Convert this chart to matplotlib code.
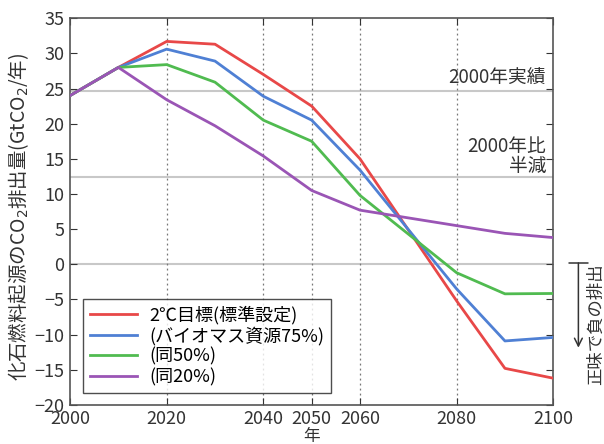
import matplotlib
matplotlib.use('Agg')
import matplotlib.pyplot as plt

plt.rcParams['font.family'] = ['Noto Sans CJK JP', 'DejaVu Sans']

# data
years = [2000, 2010, 2020, 2030, 2040, 2050, 2060, 2080, 2090, 2100]
target_2c = [24, 28, 31.7, 31.3, 27.0, 22.5, 15.0, -5.2, -14.8, -16.2]
bio_75 = [24, 28, 30.6, 28.9, 23.9, 20.5, 13.4, -3.5, -10.9, -10.4]
bio_50 = [24, 28, 28.4, 25.9, 20.5, 17.5, 9.8, -1.2, -4.2, -4.15]
bio_20 = [24, 28, 23.4, 19.7, 15.4, 10.5, 7.7, 5.5, 4.4, 3.8]
series_labels = ['2℃目標(標準設定)', '(バイオマス資源75%)', '(同50%)', '(同20%)']
colors = ['#e84848', '#4f80d4', '#50bb50', '#9a55b5']

ref_2000 = 24.7
half_2000 = 12.35
xticks = [2000, 2020, 2040, 2050, 2060, 2080, 2100]
vlines = [2020, 2040, 2050, 2060, 2080]

fig = plt.figure(figsize=(6.04, 4.44), dpi=100)
ax = fig.add_axes([0.116, 0.088, 0.800, 0.871])

# reference lines
for yv in [ref_2000, half_2000, 0]:
    ax.axhline(yv, color='#c8c8c8', lw=1.5, zorder=1)
for xv in vlines:
    ax.axvline(xv, color='#777777', lw=0.9, ls=(0, (1.5, 2.5)), zorder=1)

for vals, lab, c in zip([target_2c, bio_75, bio_50, bio_20], series_labels, colors):
    ax.plot(years, vals, color=c, lw=2, label=lab, zorder=3)

ax.set_xlim(2000, 2100)
ax.set_ylim(-20, 35)
ax.set_xticks(xticks)
ax.set_yticks(range(-20, 36, 5))
ax.tick_params(axis='both', labelsize=13, colors='#333333', direction='in', length=5,
               top=True, right=True, pad=4)
for s in ax.spines.values():
    s.set_color('#555555')
    s.set_linewidth(1.2)

ax.set_xlabel('年', fontsize=12, color='#333333', labelpad=0)
ax.set_ylabel('化石燃料起源のCO$_2$排出量(GtCO$_2$/年)', fontsize=14, color='#333333')
ax.yaxis.set_label_coords(-0.08, 0.485)

ax.text(2098.5, ref_2000 + 0.4, '2000年実績', ha='right', va='bottom', fontsize=13.5, color='#333333')
ax.text(2098.5, half_2000 + 0.1, '2000年比\n半減', ha='right', va='bottom', fontsize=13.5,
        color='#333333', linespacing=0.9, multialignment='right')

leg = ax.legend(loc='lower left', bbox_to_anchor=(0.027, 0.031), borderaxespad=0, fontsize=13,
                frameon=True, fancybox=False, edgecolor='#222222', handlelength=2.6,
                handletextpad=0.7, borderpad=0.38, labelspacing=0.12)
leg.get_frame().set_linewidth(1.0)

# negative emission arrow on the right
ax.annotate('', xy=(1.052, 0.148), xytext=(1.052, 0.367), xycoords='axes fraction',
            arrowprops=dict(arrowstyle=']->, widthA=0.5, lengthA=0',
                            color='#333333', lw=1.1, shrinkA=0, shrinkB=0, mutation_scale=14),
            annotation_clip=False)
ax.text(1.088, 0.367, '正味で負の排出', transform=ax.transAxes, rotation=90, ha='center', va='top',
        fontsize=12.5, color='#333333')

fig.savefig('out.png', dpi=100)
